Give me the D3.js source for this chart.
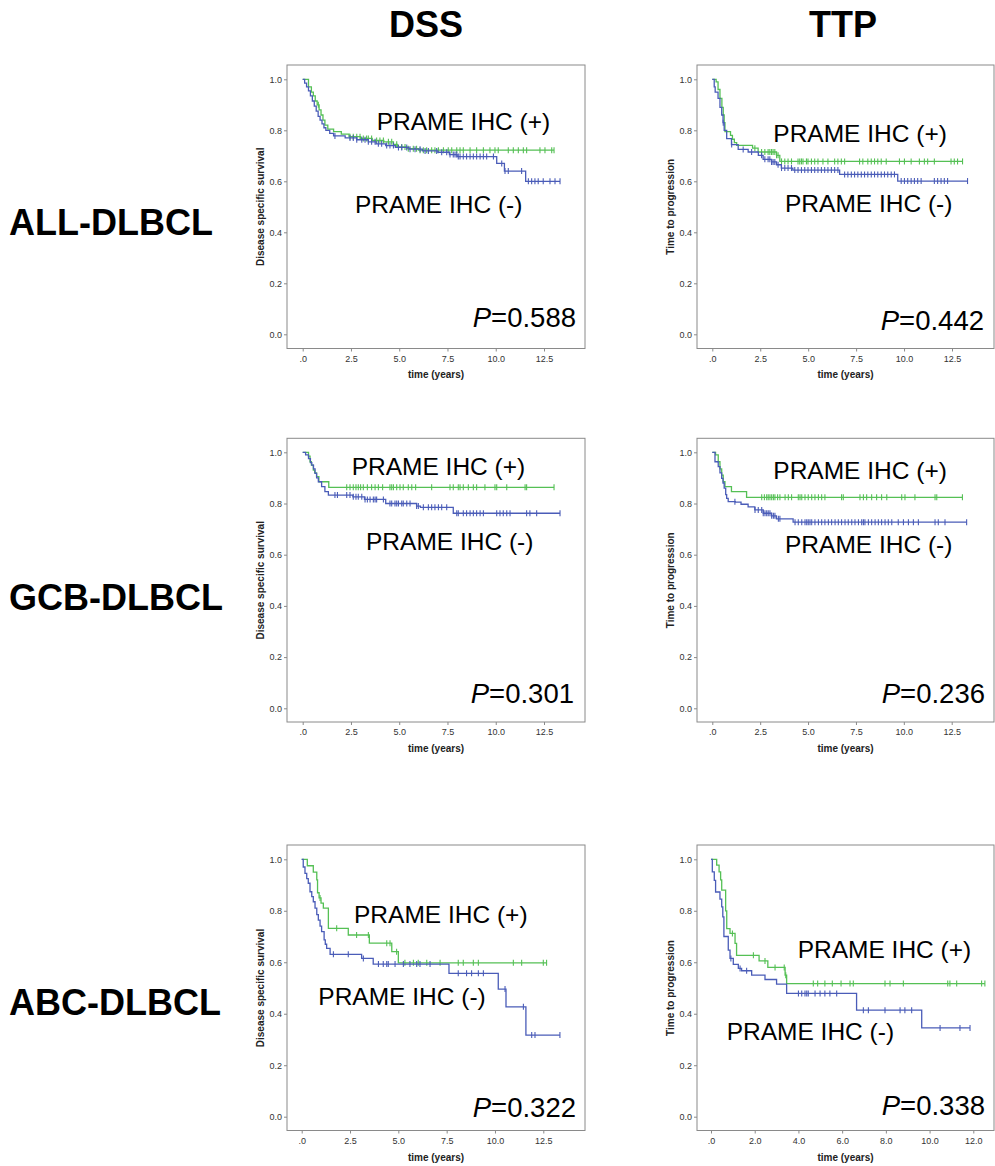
<!DOCTYPE html>
<html>
<head>
<meta charset="utf-8">
<script src="https://cdn.jsdelivr.net/npm/d3@7"></script>
<style>
body { margin: 0; background: #fff; }
text { font-family: "Liberation Sans", Arial, sans-serif; }
</style>
</head>
<body>
<svg id="chart" width="995" height="1166"></svg>
<script>
// Column / row titles and tick values
const columnTitles = ['DSS', 'TTP'];
const rowTitles = ['ALL-DLBCL', 'GCB-DLBCL', 'ABC-DLBCL'];
const yAxisTitles = ['Disease specific survival', 'Time to progression'];
const yTickValues = [0, 0.2, 0.4, 0.6, 0.8, 1.0];
const xTicksA = [0, 2.5, 5, 7.5, 10, 12.5];
const xTicksB = [0, 2, 4, 6, 8, 10, 12];
const pValues = ['0.588', '0.442', '0.301', '0.236', '0.322', '0.338'];
const groupLabels = ['PRAME IHC (+)', 'PRAME IHC (-)'];

// Kaplan-Meier steps [time, survival] and censor times
const dssAllPos = [[0,1],[0.3,0.97],[0.45,0.95],[0.55,0.935],[0.65,0.915],[0.75,0.9],[0.85,0.88],[0.95,0.86],[1.05,0.84],[1.15,0.82],[1.3,0.805],[1.6,0.795],[2.0,0.785],[2.4,0.775],[3.0,0.768],[3.6,0.76],[4.2,0.755],[4.7,0.745],[4.9,0.735],[5.4,0.728],[6.0,0.722],[13.02,0.722]];
const dssAllPosCens = [0.81,2.45,2.62,2.8,2.97,3.14,3.31,3.4,3.57,3.83,4.0,4.18,4.44,4.61,4.87,5.13,5.3,5.47,5.73,5.9,6.08,6.25,6.42,6.68,6.85,7.03,7.29,7.54,7.72,7.98,8.15,8.32,8.67,9.01,9.36,9.7,9.96,10.13,10.65,10.91,11.17,11.43,11.6,12.29,12.55,12.9,13.02];
const dssAllNeg = [[0,1],[0.1,0.985],[0.2,0.97],[0.3,0.955],[0.4,0.935],[0.5,0.915],[0.6,0.895],[0.7,0.875],[0.8,0.855],[0.9,0.84],[1.0,0.825],[1.1,0.81],[1.2,0.8],[1.4,0.788],[1.6,0.778],[2.2,0.77],[2.8,0.763],[3.4,0.755],[3.8,0.747],[4.3,0.74],[4.8,0.733],[5.5,0.726],[6.2,0.719],[7.0,0.714],[7.6,0.705],[8.0,0.697],[10.05,0.67],[10.45,0.64],[11.55,0.6],[13.33,0.6]];
const dssAllNegCens = [1.67,2.45,2.62,2.8,3.06,3.23,3.4,3.57,3.75,3.92,4.09,4.35,4.52,4.7,4.96,5.13,5.39,5.56,5.82,6.08,6.34,6.51,6.94,7.2,7.46,7.63,7.8,7.89,7.98,8.06,8.15,8.32,8.49,8.67,8.84,9.01,9.19,9.36,9.53,9.88,10.31,10.48,10.65,11.34,11.69,11.86,12.03,12.2,12.46,12.81,13.07,13.33];

const ttpAllPos = [[0,1],[0.2,0.99],[0.3,0.96],[0.4,0.925],[0.5,0.89],[0.57,0.86],[0.62,0.83],[0.66,0.795],[0.95,0.78],[1.05,0.765],[1.15,0.752],[1.27,0.741],[2.1,0.73],[2.39,0.715],[3.35,0.702],[3.52,0.678],[13.05,0.678]];
const ttpAllPosCens = [2.22,2.57,2.74,2.91,3.0,3.09,3.17,3.26,3.35,3.43,3.61,3.78,3.95,4.13,4.47,4.56,4.65,4.73,4.91,4.99,5.17,5.34,5.51,5.77,6.03,6.38,6.55,6.73,6.9,7.68,7.85,8.11,8.29,8.46,8.63,8.81,9.07,9.76,10.02,10.37,10.8,11.06,11.23,11.58,12.45,12.62,12.79,13.05];
const ttpAllNeg = [[0,1],[0.1,0.97],[0.15,0.95],[0.3,0.925],[0.4,0.89],[0.49,0.86],[0.56,0.83],[0.62,0.8],[0.75,0.767],[1.0,0.744],[1.35,0.725],[1.87,0.715],[2.4,0.702],[2.65,0.686],[3.09,0.676],[3.35,0.665],[3.6,0.652],[4.2,0.644],[6.64,0.627],[9.67,0.601],[13.31,0.601]];
const ttpAllNegCens = [0.57,1.01,1.61,2.05,2.57,2.74,2.91,3.0,3.09,3.17,3.26,3.43,3.61,3.78,3.95,4.13,4.3,4.47,4.65,4.82,4.99,5.17,5.34,5.51,5.69,5.86,6.03,6.21,6.38,6.55,6.9,7.07,7.25,7.42,7.59,7.77,7.94,8.11,8.29,8.46,8.63,8.81,8.98,9.15,9.33,9.5,9.85,10.02,10.19,10.37,10.54,10.71,10.89,11.58,11.75,11.93,12.1,12.27,13.31];

const dssGcbPos = [[0,1],[0.3,0.985],[0.38,0.963],[0.45,0.95],[0.55,0.93],[0.62,0.92],[0.72,0.905],[0.84,0.885],[1.35,0.863],[13.02,0.863]];
const dssGcbPosCens = [2.28,2.45,2.62,2.76,2.88,3.0,3.14,3.35,3.57,3.75,3.92,4.14,4.52,4.61,4.7,4.87,5.04,5.21,5.47,5.65,5.85,6.68,7.63,7.8,8.06,8.15,8.32,8.58,8.84,9.01,9.44,9.96,10.05,10.57,11.52,11.6,13.02];
const dssGcbNeg = [[0,1],[0.15,0.99],[0.3,0.975],[0.4,0.96],[0.47,0.95],[0.56,0.935],[0.64,0.918],[0.72,0.9],[0.81,0.885],[0.98,0.866],[1.15,0.846],[1.33,0.833],[2.6,0.826],[3.2,0.816],[4.3,0.8],[5.9,0.79],[6.1,0.785],[7.8,0.762],[13.33,0.762]];
const dssGcbNegCens = [1.67,1.8,2.28,2.45,2.62,2.76,2.88,3.06,3.23,3.35,3.49,3.66,3.75,3.83,4.18,4.52,4.61,4.78,4.87,4.96,5.13,5.21,5.39,5.56,5.9,5.99,6.25,6.51,6.68,6.85,7.03,7.2,7.46,7.98,8.06,8.32,8.49,8.67,8.84,9.01,9.19,9.36,10.05,10.22,10.39,10.57,10.74,11.6,11.77,12.12,13.33];

const ttpGcbPos = [[0,1],[0.17,0.99],[0.31,0.963],[0.4,0.935],[0.49,0.911],[0.57,0.885],[0.66,0.866],[1.0,0.846],[1.79,0.824],[13.06,0.824]];
const ttpGcbPosCens = [2.58,2.72,2.84,2.92,3.01,3.1,3.19,3.27,3.41,3.53,3.8,3.97,4.14,4.49,4.58,4.67,4.84,5.01,5.19,5.36,5.54,5.71,5.88,6.75,6.84,7.71,7.89,8.06,8.32,8.58,8.84,9.11,9.89,10.06,10.58,11.63,11.72,13.06];
const ttpGcbNeg = [[0,1],[0.14,0.963],[0.31,0.944],[0.4,0.92],[0.49,0.898],[0.56,0.88],[0.62,0.86],[0.7,0.835],[0.75,0.82],[0.83,0.807],[1.2,0.805],[1.5,0.797],[1.87,0.787],[2.22,0.775],[2.66,0.762],[3.09,0.752],[3.35,0.74],[4.22,0.727],[13.28,0.727]];
const ttpGcbNegCens = [1.18,2.23,2.4,2.58,2.66,2.75,2.84,2.92,3.01,3.1,3.19,3.27,3.45,3.53,4.32,4.49,4.67,4.84,4.93,5.01,5.1,5.19,5.36,5.54,5.71,5.88,6.06,6.23,6.41,6.58,6.75,6.93,7.1,7.28,7.45,7.63,7.8,7.89,7.97,8.15,8.32,8.5,8.67,8.84,9.02,9.19,9.37,9.71,9.98,10.24,10.5,10.76,11.63,11.8,12.15,13.28];

const dssAbcPos = [[0,1],[0.29,0.975],[0.6,0.95],[0.78,0.92],[0.82,0.87],[0.9,0.85],[1.0,0.83],[1.12,0.81],[1.38,0.732],[2.41,0.706],[3.5,0.674],[4.66,0.641],[5.0,0.598],[12.67,0.598]];
const dssAbcPosCens = [0.95,1.81,2.84,3.45,4.4,4.57,4.91,5.34,5.78,6.03,6.47,7.16,8.1,8.36,8.88,9.14,10.95,11.38,12.5,12.67];
const dssAbcNeg = [[0,1],[0.08,0.97],[0.17,0.945],[0.26,0.925],[0.34,0.907],[0.43,0.874],[0.52,0.855],[0.6,0.835],[0.69,0.81],[0.78,0.785],[0.86,0.764],[0.95,0.74],[1.03,0.719],[1.16,0.687],[1.22,0.67],[1.29,0.654],[1.47,0.631],[3.1,0.615],[3.7,0.593],[7.62,0.557],[10.17,0.496],[10.57,0.427],[11.6,0.317],[13.36,0.317]];
const dssAbcNegCens = [1.64,2.41,3.19,3.97,4.22,4.4,4.48,4.83,5.26,5.6,5.95,6.12,6.64,8.1,8.53,8.79,9.14,9.4,10.52,11.47,11.9,12.07,13.36];

const ttpAbcPos = [[0,1],[0.26,0.977],[0.37,0.951],[0.44,0.92],[0.49,0.88],[0.67,0.8],[0.72,0.731],[0.87,0.712],[1.1,0.673],[1.17,0.627],[2.2,0.605],[2.6,0.58],[3.39,0.55],[3.46,0.517],[12.53,0.517]];
const ttpAbcPosCens = [0.98,1.94,2.47,2.93,3.35,3.42,4.68,4.88,5.21,5.55,5.95,6.36,6.51,7.96,8.19,8.8,10.83,10.93,11.24,12.38,12.53];
const ttpAbcNeg = [[0,1],[0.06,0.951],[0.15,0.918],[0.21,0.873],[0.41,0.845],[0.49,0.815],[0.54,0.776],[0.59,0.7],[0.79,0.647],[0.87,0.615],[1.02,0.592],[1.25,0.576],[1.4,0.567],[1.86,0.55],[2.47,0.533],[3.0,0.515],[3.46,0.479],[6.66,0.414],[9.64,0.345],[11.85,0.345]];
const ttpAbcNegCens = [0.91,1.33,1.63,4.0,4.15,4.3,4.38,4.45,4.76,4.99,5.21,5.44,5.75,6.97,7.2,7.96,8.65,8.87,9.18,10.48,11.39,11.85];

// Layout (pixel geometry of the frames)
const cols = [
    { frameL: 287, frameR: 585, titleX: 426, yTitleX: 260 },
    { frameL: 697, frameR: 994, titleX: 843, yTitleX: 670 }
];
const rows = [
    { top: 65, y1: 79.3, y0: 334.3, bottom: 348.5, labelY: 235 },
    { top: 438.3, y1: 452.3, y0: 708.3, bottom: 722, labelY: 610 },
    { top: 845, y1: 859.3, y0: 1116.7, bottom: 1130.5, labelY: 1015 }
];

const panels = [
    { row: 0, col: 0, pos: dssAllPos, posCens: dssAllPosCens, neg: dssAllNeg, negCens: dssAllNegCens, p: pValues[0],
      xTicks: xTicksA, xRange: [302.7, 544], plusAt: [376.7, 130], minusAt: [355, 213], pAt: [576, 327] },
    { row: 0, col: 1, pos: ttpAllPos, posCens: ttpAllPosCens, neg: ttpAllNeg, negCens: ttpAllNegCens, p: pValues[1],
      xTicks: xTicksA, xRange: [712.3, 952], plusAt: [773.3, 141.7], minusAt: [785, 211.7], pAt: [984, 330] },
    { row: 1, col: 0, pos: dssGcbPos, posCens: dssGcbPosCens, neg: dssGcbNeg, negCens: dssGcbNegCens, p: pValues[2],
      xTicks: xTicksA, xRange: [302.7, 544], plusAt: [351.7, 475], minusAt: [366, 550], pAt: [574, 703] },
    { row: 1, col: 1, pos: ttpGcbPos, posCens: ttpGcbPosCens, neg: ttpGcbNeg, negCens: ttpGcbNegCens, p: pValues[3],
      xTicks: xTicksA, xRange: [712.3, 951.7], plusAt: [773.3, 479.3], minusAt: [785, 553.3], pAt: [985, 703] },
    { row: 2, col: 0, pos: dssAbcPos, posCens: dssAbcPosCens, neg: dssAbcNeg, negCens: dssAbcNegCens, p: pValues[4],
      xTicks: xTicksA, xRange: [301.7, 543.3], plusAt: [354, 923.3], minusAt: [318.3, 1005], pAt: [576, 1117] },
    { row: 2, col: 1, pos: ttpAbcPos, posCens: ttpAbcPosCens, neg: ttpAbcNeg, negCens: ttpAbcNegCens, p: pValues[5],
      xTicks: xTicksB, xRange: [711, 973.3], plusAt: [797.7, 958.3], minusAt: [726.7, 1040], pAt: [985, 1115] }
];

const green = '#55c055';
const blue = '#4a5cb8';
const svg = d3.select('#chart');

// Column headers and row labels
svg.selectAll('text.colTitle')
    .data(columnTitles)
    .enter()
    .append('text')
    .attr('class', 'colTitle')
    .attr('x', (d, i) => cols[i].titleX)
    .attr('y', 37)
    .attr('text-anchor', 'middle')
    .attr('font-size', 36)
    .attr('font-weight', 'bold')
    .text(d => d);

svg.selectAll('text.rowTitle')
    .data(rowTitles)
    .enter()
    .append('text')
    .attr('class', 'rowTitle')
    .attr('x', 9)
    .attr('y', (d, i) => rows[i].labelY)
    .attr('font-size', 36)
    .attr('font-weight', 'bold')
    .text(d => d);

// value of a step function at time t
function survivalAt(steps, t) {
    const i = d3.bisector(d => d[0]).right(steps, t) - 1;
    return steps[Math.max(0, i)][1];
}

function drawPanel(p) {
    const c = cols[p.col];
    const r = rows[p.row];
    const g = svg.append('g');

    const x = d3.scaleLinear()
        .domain([p.xTicks[0], p.xTicks[p.xTicks.length - 1]])
        .range(p.xRange);
    const y = d3.scaleLinear().domain([0, 1]).range([r.y0, r.y1]);

    // frame
    g.append('rect')
        .attr('x', c.frameL)
        .attr('y', r.top)
        .attr('width', c.frameR - c.frameL)
        .attr('height', r.bottom - r.top)
        .attr('fill', 'none')
        .attr('stroke', '#8a8a8a')
        .attr('stroke-width', 1);

    // axes
    const yAxis = g.append('g')
        .attr('transform', `translate(${c.frameL},0)`)
        .call(d3.axisLeft(y).tickValues(yTickValues).tickSize(3).tickPadding(2).tickFormat(d3.format('.1f')));
    const xAxis = g.append('g')
        .attr('transform', `translate(0,${r.bottom})`)
        .call(d3.axisBottom(x).tickValues(p.xTicks).tickSize(3).tickPadding(4)
            .tickFormat(d => d === 0 ? '.0' : d3.format('.1f')(d)));
    [yAxis, xAxis].forEach(a => {
        a.select('.domain').remove();
        a.selectAll('.tick line').attr('stroke', '#8a8a8a');
        a.selectAll('.tick text')
            .attr('fill', '#333')
            .attr('font-size', 9)
            .attr('font-family', '"Liberation Sans", Arial, sans-serif');
    });

    // axis titles
    g.append('text')
        .attr('transform', `translate(${c.yTitleX},${(r.y0 + r.y1) / 2}) rotate(-90)`)
        .attr('text-anchor', 'middle')
        .attr('dy', '0.35em')
        .attr('font-size', 10)
        .attr('font-weight', 'bold')
        .attr('fill', '#222')
        .text(yAxisTitles[p.col]);
    g.append('text')
        .attr('x', (c.frameL + c.frameR) / 2)
        .attr('y', r.y0 + 44)
        .attr('text-anchor', 'middle')
        .attr('font-size', 10)
        .attr('font-weight', 'bold')
        .attr('fill', '#222')
        .text('time (years)');

    // curves
    const line = d3.line()
        .x(d => x(d[0]))
        .y(d => y(d[1]))
        .curve(d3.curveStepAfter);

    const series = [
        { steps: p.pos, cens: p.posCens, color: green },
        { steps: p.neg, cens: p.negCens, color: blue }
    ];
    series.forEach(s => {
        g.append('path')
            .datum(s.steps)
            .attr('fill', 'none')
            .attr('stroke', s.color)
            .attr('stroke-width', 1.3)
            .attr('d', line);
        g.selectAll(null)
            .data(s.cens)
            .enter()
            .append('line')
            .attr('x1', d => x(d))
            .attr('x2', d => x(d))
            .attr('y1', d => y(survivalAt(s.steps, d)) - 3)
            .attr('y2', d => y(survivalAt(s.steps, d)) + 3)
            .attr('stroke', s.color)
            .attr('stroke-width', 1.1);
    });

    // group labels
    g.append('text')
        .attr('x', p.plusAt[0])
        .attr('y', p.plusAt[1])
        .attr('font-size', 24.5)
        .text(groupLabels[0]);
    g.append('text')
        .attr('x', p.minusAt[0])
        .attr('y', p.minusAt[1])
        .attr('font-size', 24.5)
        .text(groupLabels[1]);

    // p-value
    const pt = g.append('text')
        .attr('x', p.pAt[0])
        .attr('y', p.pAt[1])
        .attr('text-anchor', 'end')
        .attr('font-size', 27.5);
    pt.append('tspan').attr('font-style', 'italic').text('P');
    pt.append('tspan').text('=' + p.p);
}

panels.forEach(drawPanel);
</script>
</body>
</html>
